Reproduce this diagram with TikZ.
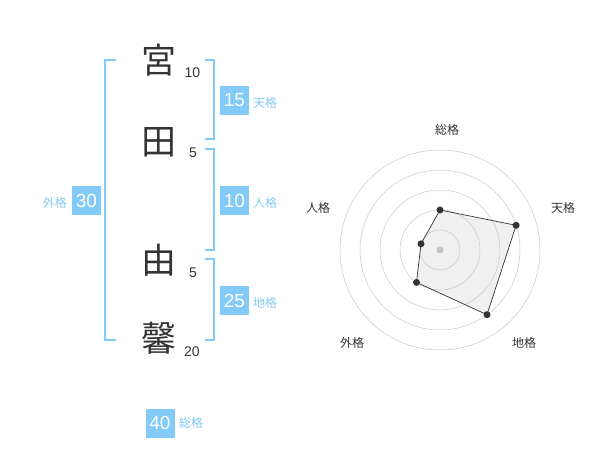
\documentclass[tikz,border=0pt]{standalone}
\usepackage{fontspec}
\setmainfont{Liberation Sans}
\newfontfamily\cjk{Noto Sans CJK JP}
\definecolor{kblue}{RGB}{130,202,248}
\definecolor{ink}{RGB}{51,51,51}
\begin{document}
\begin{tikzpicture}[x=1pt,y=-1pt,
  kanji/.style={font=\cjk\fontsize{35}{35}\selectfont, text=ink, inner sep=0pt},
  strokes/.style={font=\fontsize{14}{14}\selectfont, text=ink, inner sep=0pt},
  gbox/.style={fill=kblue, text=white, font=\fontsize{19}{19}\selectfont, minimum width=29pt, minimum height=29pt, inner sep=0pt},
  glabel/.style={font=\cjk\fontsize{12}{12}\selectfont, text=kblue, inner sep=0pt},
  brk/.style={draw=kblue, line width=1.8pt},
  ring/.style={draw=black!22, line width=0.5pt},
  rlabel/.style={font=\cjk\fontsize{12}{12}\selectfont, text=ink, inner sep=0pt},
  dot/.style={circle, fill=ink, inner sep=0pt, minimum size=7pt}]
\useasboundingbox (0,0) rectangle (600,470);
% characters
\node[kanji] (c1) at (159,60) {宮};
\node[kanji] (c2) at (159,142) {田};
\node[kanji] (c3) at (159,260) {由};
\node[kanji] (c4) at (159,338) {馨};
\node[strokes] (s1) at (192.5,73) {10};
\node[strokes] (s2) at (193,153) {5};
\node[strokes] (s3) at (193,273) {5};
\node[strokes] (s4) at (192,352) {20};
% brackets
\draw[brk] (116,60) -- (105,60) -- (105,340) -- (116,340);
\draw[brk] (205,60) -- (214,60) -- (214,139) -- (205,139);
\draw[brk] (205,149) -- (214,149) -- (214,250) -- (205,250);
\draw[brk] (205,259) -- (214,259) -- (214,340) -- (205,340);
% boxes
\node[gbox] (b15) at (234.5,100.5) {15};
\node[glabel,anchor=west] (l15) at (253,103) {天格};
\node[gbox] (b10) at (234.5,200.5) {10};
\node[glabel,anchor=west] (l10) at (253,203) {人格};
\node[gbox] (b25) at (234.5,300.5) {25};
\node[glabel,anchor=west] (l25) at (253,303) {地格};
\node[gbox] (b30) at (86.5,200.5) {30};
\node[glabel,anchor=east] (l30) at (67,203) {外格};
\node[gbox] (b40) at (160,423) {40};
\node[glabel,anchor=west] (l40) at (179,423) {総格};
% radar
\coordinate (o) at (440,250);
\coordinate (v1) at (440,210);
\coordinate (v2) at (516.1,225.3);
\coordinate (v3) at (487.0,314.7);
\coordinate (v4) at (416.5,282.4);
\coordinate (v5) at (421.0,243.8);
\fill[black!6] (v1) -- (v2) -- (v3) -- (v4) -- (v5) -- cycle;
\foreach \r in {20,40,60,80,100} \draw[ring] (o) circle (\r);
\draw[ink, line width=0.7pt] (v1) -- (v2) -- (v3) -- (v4) -- (v5) -- cycle;
\fill[black!22] (o) circle (3.5);
\foreach \v in {v1,v2,v3,v4,v5} \node[dot] at (\v) {};
\node[rlabel] (t1) at (447,130) {総格};
\node[rlabel] (t2) at (563,208) {天格};
\node[rlabel] (t3) at (524,343) {地格};
\node[rlabel] (t4) at (352,343) {外格};
\node[rlabel] (t5) at (318,208) {人格};
\end{tikzpicture}
\end{document}
